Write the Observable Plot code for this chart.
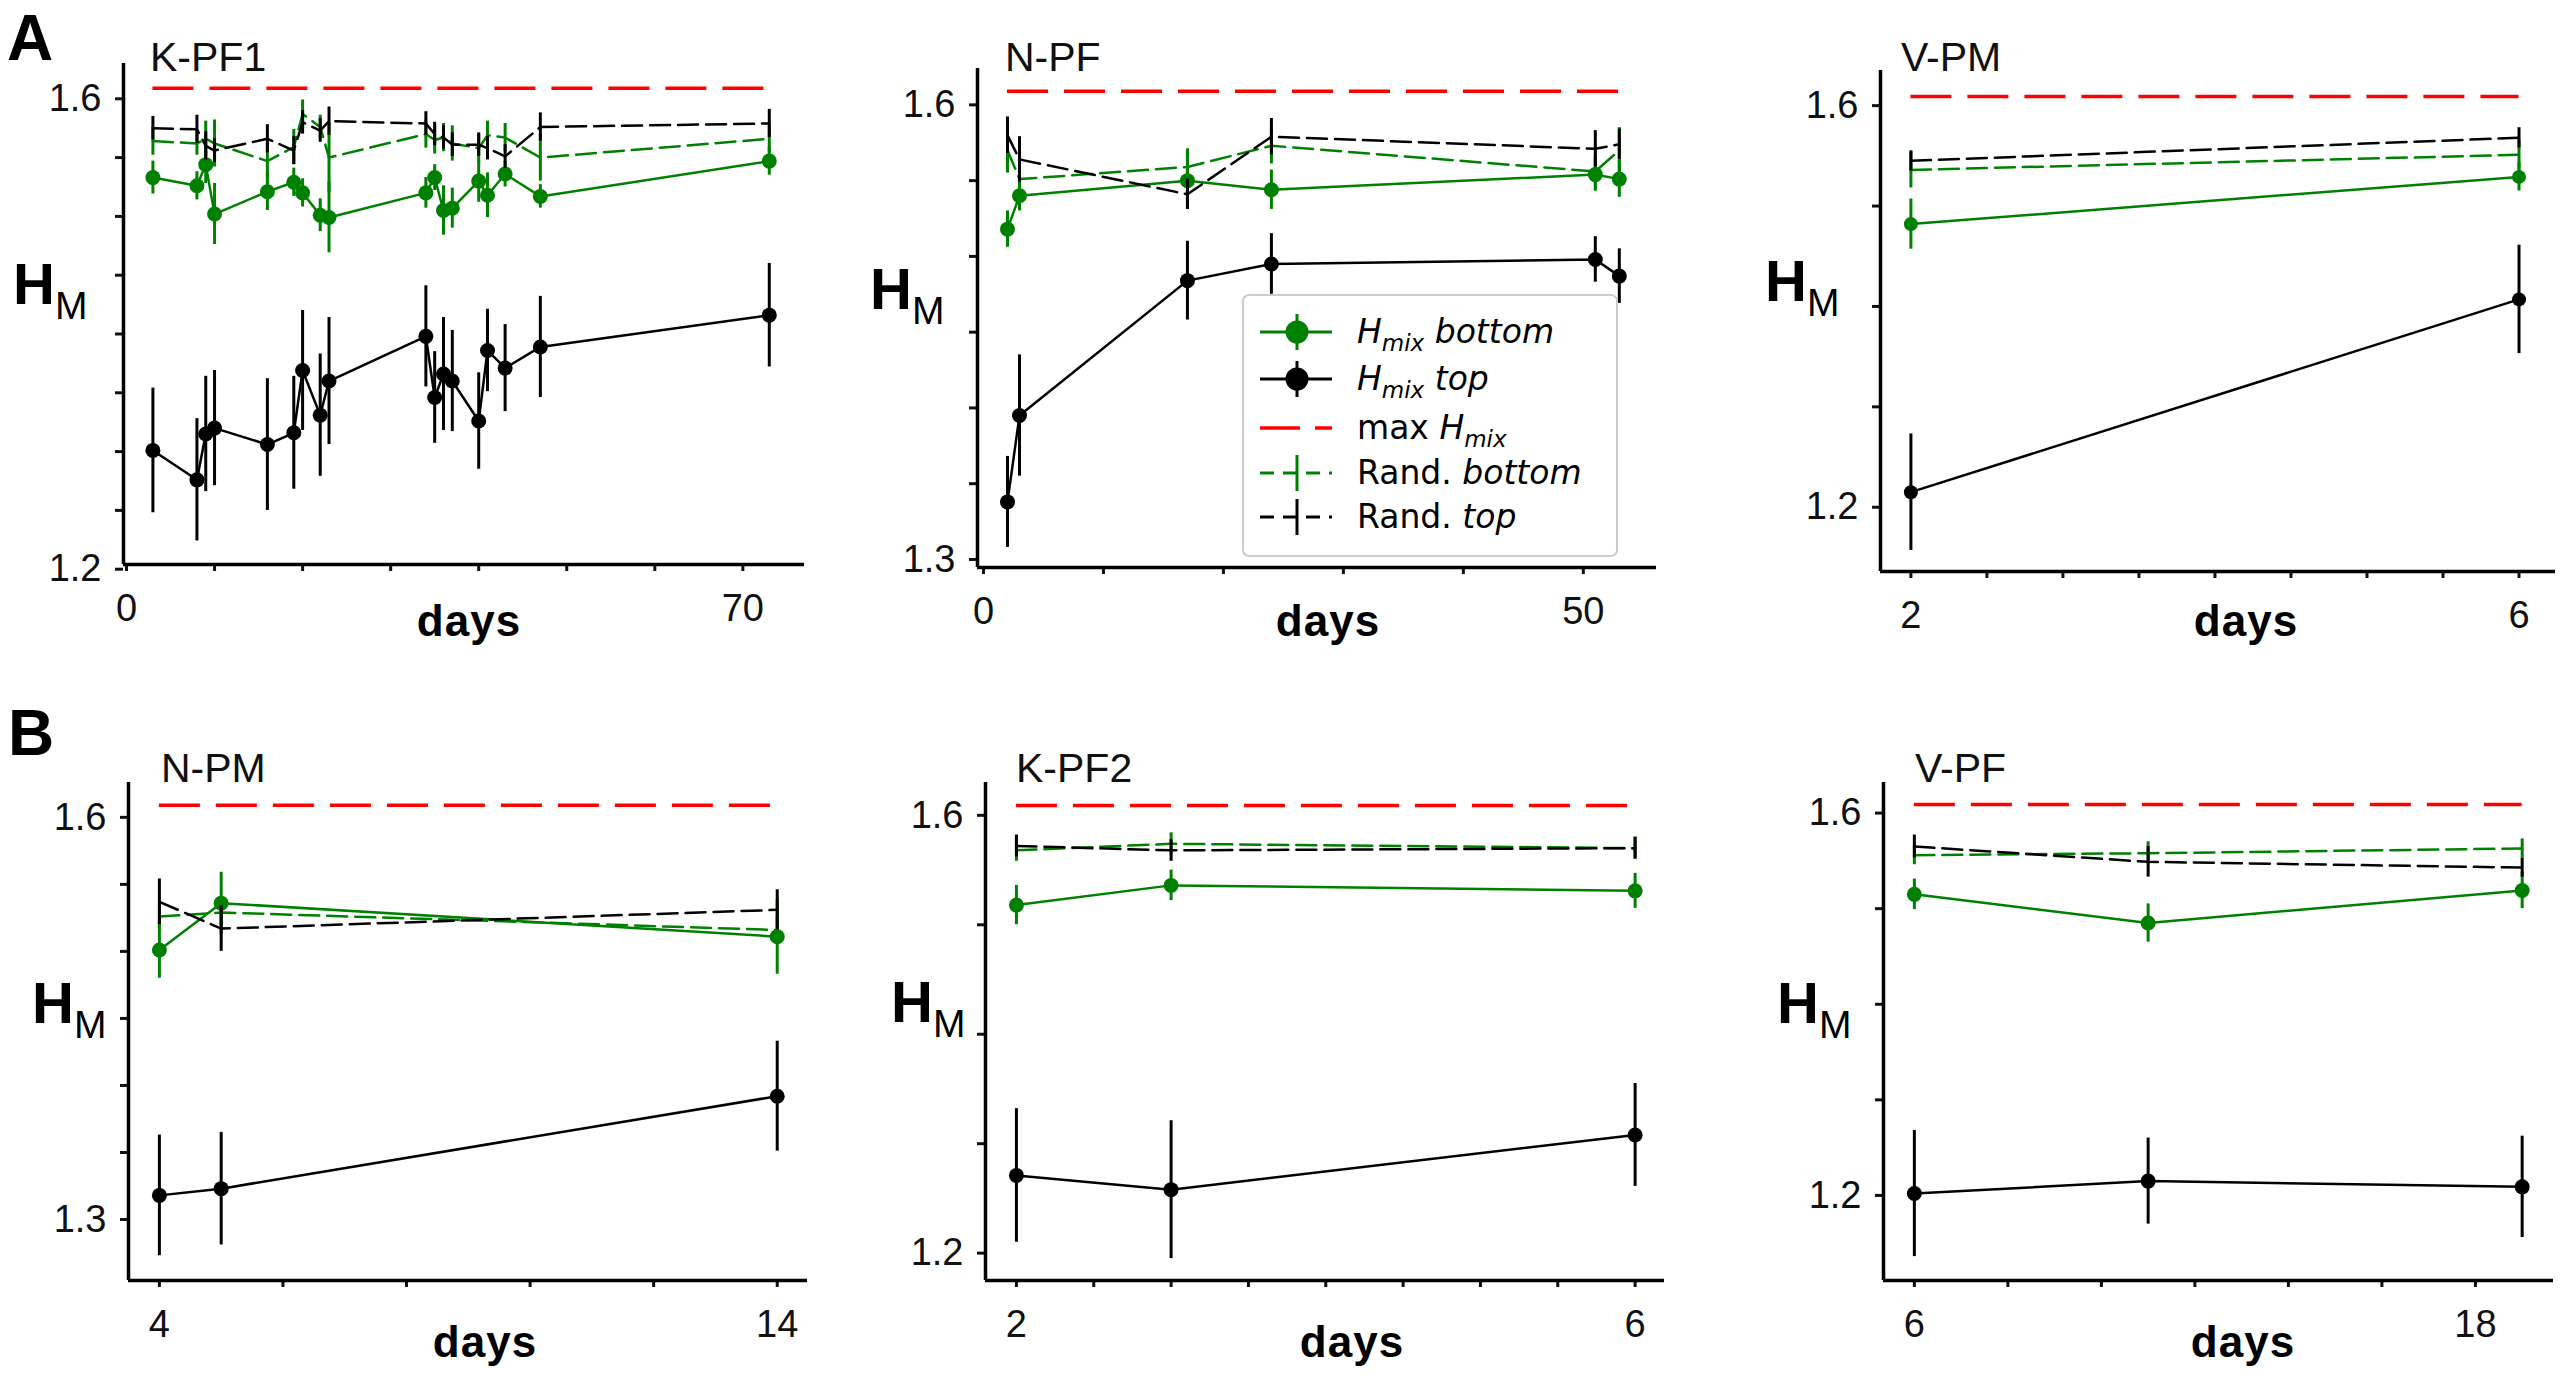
<!DOCTYPE html>
<html>
<head>
<meta charset="utf-8">
<script src="https://cdn.jsdelivr.net/npm/d3@7"></script>
<script src="https://cdn.jsdelivr.net/npm/@observablehq/plot@0.6"></script>
<style>
  html, body { margin: 0; padding: 0; background: #fff; }
  #page { position: relative; width: 2560px; height: 1378px; overflow: hidden; background: #fff; }
  #page svg { position: absolute; }
</style>
</head>
<body>
<div id="page"></div>
<script>
// ---------------- DATA ----------------
const maxHmix = 1.609;
const panelTitles = ["K-PF1", "N-PF", "V-PM", "N-PM", "K-PF2", "V-PF"];
const panelLetters = ["A", "B"];

// K-PF1
const kpf1Days = [3, 8, 9, 10, 16, 19, 20, 22, 23, 34, 35, 36, 37, 40, 41, 43, 47, 73];
const kpf1Bottom = [1.533, 1.526, 1.544, 1.502, 1.521, 1.529, 1.520, 1.501, 1.499, 1.520, 1.533, 1.505, 1.507, 1.530, 1.518, 1.536, 1.517, 1.547];
const kpf1BottomErr = [0.014, 0.012, 0.016, 0.026, 0.016, 0.012, 0.012, 0.014, 0.030, 0.013, 0.011, 0.021, 0.017, 0.018, 0.019, 0.011, 0.010, 0.012];
const kpf1Top = [1.301, 1.276, 1.315, 1.320, 1.306, 1.316, 1.369, 1.331, 1.360, 1.398, 1.346, 1.366, 1.360, 1.326, 1.386, 1.371, 1.389, 1.416];
const kpf1TopErr = [0.053, 0.052, 0.049, 0.049, 0.056, 0.048, 0.051, 0.052, 0.054, 0.043, 0.039, 0.048, 0.043, 0.041, 0.035, 0.037, 0.043, 0.044];
const kpf1RandBottom = [1.564, 1.562, 1.566, 1.562, 1.547, 1.559, 1.587, 1.576, 1.550, 1.570, 1.565, 1.567, 1.562, 1.558, 1.569, 1.567, 1.550, 1.566];
const kpf1RandBottomErr = [0.012, 0.010, 0.015, 0.020, 0.015, 0.015, 0.012, 0.010, 0.030, 0.012, 0.012, 0.012, 0.015, 0.012, 0.012, 0.012, 0.020, 0.012];
const kpf1RandTop = [1.575, 1.574, 1.560, 1.556, 1.566, 1.556, 1.580, 1.573, 1.581, 1.579, 1.570, 1.567, 1.561, 1.561, 1.558, 1.551, 1.576, 1.579];
const kpf1RandTopErr = [0.010, 0.012, 0.012, 0.010, 0.012, 0.012, 0.010, 0.010, 0.012, 0.010, 0.010, 0.010, 0.010, 0.010, 0.010, 0.010, 0.012, 0.012];
const kpf1XTicks = [0, 10, 20, 30, 40, 50, 60, 70];
const kpf1XLabels = [0, 70];
const kpf1YTicks = [1.2, 1.25, 1.3, 1.35, 1.4, 1.45, 1.5, 1.55, 1.6];
const kpf1YLabels = [1.2, 1.6];

// N-PF
const npfDays = [2, 3, 17, 24, 51, 53];
const npfBottom = [1.518, 1.540, 1.550, 1.544, 1.554, 1.551];
const npfBottomErr = [0.012, 0.010, 0.019, 0.013, 0.011, 0.012];
const npfTop = [1.338, 1.395, 1.484, 1.495, 1.498, 1.487];
const npfTopErr = [0.030, 0.040, 0.026, 0.020, 0.015, 0.018];
const npfRandBottom = [1.570, 1.551, 1.559, 1.573, 1.556, 1.570];
const npfRandBottomErr = [0.015, 0.012, 0.012, 0.012, 0.012, 0.015];
const npfRandTop = [1.580, 1.564, 1.541, 1.579, 1.571, 1.574];
const npfRandTopErr = [0.012, 0.015, 0.010, 0.012, 0.012, 0.010];
const npfXTicks = [0, 10, 20, 30, 40, 50];
const npfXLabels = [0, 50];
const npfYTicks = [1.3, 1.35, 1.4, 1.45, 1.5, 1.55, 1.6];
const npfYLabels = [1.3, 1.6];

// V-PM
const vpmDays = [2, 6];
const vpmBottom = [1.482, 1.529];
const vpmBottomErr = [0.025, 0.014];
const vpmTop = [1.215, 1.407];
const vpmTopErr = [0.058, 0.054];
const vpmRandBottom = [1.536, 1.551];
const vpmRandBottomErr = [0.018, 0.015];
const vpmRandTop = [1.545, 1.568];
const vpmRandTopErr = [0.010, 0.010];
const vpmXTicks = [2, 2.5, 3, 3.5, 4, 4.5, 5, 5.5, 6];
const vpmXLabels = [2, 6];
const vpmYTicks = [1.2, 1.3, 1.4, 1.5, 1.6];
const vpmYLabels = [1.2, 1.6];

// N-PM
const npmDays = [4, 5, 14];
const npmBottom = [1.501, 1.536, 1.511];
const npmBottomErr = [0.021, 0.023, 0.028];
const npmTop = [1.318, 1.323, 1.392];
const npmTopErr = [0.045, 0.042, 0.041];
const npmRandBottom = [1.526, 1.529, 1.516];
const npmRandBottomErr = [0.010, 0.010, 0.010];
const npmRandTop = [1.537, 1.517, 1.531];
const npmRandTopErr = [0.017, 0.017, 0.015];
const npmXTicks = [4, 6, 8, 10, 12, 14];
const npmXLabels = [4, 14];
const npmYTicks = [1.3, 1.35, 1.4, 1.45, 1.5, 1.55, 1.6];
const npmYLabels = [1.3, 1.6];

// K-PF2
const kpf2Days = [2, 3, 6];
const kpf2Bottom = [1.518, 1.536, 1.531];
const kpf2BottomErr = [0.018, 0.014, 0.016];
const kpf2Top = [1.271, 1.258, 1.308];
const kpf2TopErr = [0.061, 0.063, 0.047];
const kpf2RandBottom = [1.568, 1.574, 1.570];
const kpf2RandBottomErr = [0.010, 0.010, 0.010];
const kpf2RandTop = [1.572, 1.568, 1.570];
const kpf2RandTopErr = [0.010, 0.010, 0.010];
const kpf2XTicks = [2, 2.5, 3, 3.5, 4, 4.5, 5, 5.5, 6];
const kpf2XLabels = [2, 6];
const kpf2YTicks = [1.2, 1.3, 1.4, 1.5, 1.6];
const kpf2YLabels = [1.2, 1.6];

// V-PF
const vpfDays = [6, 11, 19];
const vpfBottom = [1.515, 1.485, 1.519];
const vpfBottomErr = [0.016, 0.020, 0.019];
const vpfTop = [1.202, 1.215, 1.209];
const vpfTopErr = [0.066, 0.045, 0.053];
const vpfRandBottom = [1.556, 1.558, 1.563];
const vpfRandBottomErr = [0.010, 0.012, 0.010];
const vpfRandTop = [1.565, 1.549, 1.543];
const vpfRandTopErr = [0.012, 0.016, 0.010];
const vpfXTicks = [6, 8, 10, 12, 14, 16, 18];
const vpfXLabels = [6, 18];
const vpfYTicks = [1.2, 1.3, 1.4, 1.5, 1.6];
const vpfYLabels = [1.2, 1.6];

// ---------------- LAYOUT / STYLE ----------------
const GREEN = "#008000", BLACK = "#000000", RED = "#ff0000";
const layout = [
  {frame: {L: 123, R: 804, T: 63, B: 564}, xDomain: [-0.34, 77.0], yDomain: [1.204, 1.630], r: 7.5,
   title: {x: 150, y: 71}, hm: {x: 13, y: 304}, days: {x: 469, y: 636}},
  {frame: {L: 977, R: 1656, T: 68, B: 567}, xDomain: [-0.5, 56.1], yDomain: [1.2947, 1.624], r: 7.5,
   title: {x: 1005, y: 71}, hm: {x: 870, y: 309}, days: {x: 1328, y: 636}},
  {frame: {L: 1880, R: 2555, T: 70, B: 571}, xDomain: [1.80, 6.24], yDomain: [1.136, 1.635], r: 7,
   title: {x: 1901, y: 71}, hm: {x: 1765, y: 301}, days: {x: 2246, y: 636}},
  {frame: {L: 128, R: 807, T: 782, B: 1280}, xDomain: [3.5, 14.49], yDomain: [1.2545, 1.626], r: 7.5,
   title: {x: 161, y: 782}, hm: {x: 32, y: 1023}, days: {x: 485, y: 1357}},
  {frame: {L: 985, R: 1664, T: 782, B: 1280}, xDomain: [1.8, 6.19], yDomain: [1.175, 1.630], r: 7.5,
   title: {x: 1016, y: 782}, hm: {x: 891, y: 1022}, days: {x: 1352, y: 1357}},
  {frame: {L: 1883, R: 2553, T: 782, B: 1280}, xDomain: [5.34, 19.67], yDomain: [1.111, 1.632], r: 7.5,
   title: {x: 1915, y: 782}, hm: {x: 1777, y: 1023}, days: {x: 2243, y: 1357}}
];

const panelData = [
  {days: kpf1Days, b: kpf1Bottom, be: kpf1BottomErr, t: kpf1Top, te: kpf1TopErr, rb: kpf1RandBottom, rbe: kpf1RandBottomErr, rt: kpf1RandTop, rte: kpf1RandTopErr, xt: kpf1XTicks, xl: kpf1XLabels, yt: kpf1YTicks, yl: kpf1YLabels},
  {days: npfDays, b: npfBottom, be: npfBottomErr, t: npfTop, te: npfTopErr, rb: npfRandBottom, rbe: npfRandBottomErr, rt: npfRandTop, rte: npfRandTopErr, xt: npfXTicks, xl: npfXLabels, yt: npfYTicks, yl: npfYLabels},
  {days: vpmDays, b: vpmBottom, be: vpmBottomErr, t: vpmTop, te: vpmTopErr, rb: vpmRandBottom, rbe: vpmRandBottomErr, rt: vpmRandTop, rte: vpmRandTopErr, xt: vpmXTicks, xl: vpmXLabels, yt: vpmYTicks, yl: vpmYLabels},
  {days: npmDays, b: npmBottom, be: npmBottomErr, t: npmTop, te: npmTopErr, rb: npmRandBottom, rbe: npmRandBottomErr, rt: npmRandTop, rte: npmRandTopErr, xt: npmXTicks, xl: npmXLabels, yt: npmYTicks, yl: npmYLabels},
  {days: kpf2Days, b: kpf2Bottom, be: kpf2BottomErr, t: kpf2Top, te: kpf2TopErr, rb: kpf2RandBottom, rbe: kpf2RandBottomErr, rt: kpf2RandTop, rte: kpf2RandTopErr, xt: kpf2XTicks, xl: kpf2XLabels, yt: kpf2YTicks, yl: kpf2YLabels},
  {days: vpfDays, b: vpfBottom, be: vpfBottomErr, t: vpfTop, te: vpfTopErr, rb: vpfRandBottom, rbe: vpfRandBottomErr, rt: vpfRandTop, rte: vpfRandTopErr, xt: vpfXTicks, xl: vpfXLabels, yt: vpfYTicks, yl: vpfYLabels}
];

const page = document.getElementById("page");
const FONT = "'Liberation Sans', Arial, Helvetica, sans-serif";

function rows(days, mean, err) {
  return days.map((d, i) => ({day: d, v: mean[i], lo: mean[i] - err[i], hi: mean[i] + err[i]}));
}
function has(list, v) { return list.some(l => Math.abs(l - v) < 1e-9); }

function seriesMarks(data, color, dashed, r) {
  const marks = [
    Plot.ruleX(data, {x: "day", y1: "lo", y2: "hi", stroke: color, strokeWidth: 3})
  ];
  const lineOpts = {x: "day", y: "v", stroke: color, strokeWidth: 2.5};
  if (dashed) lineOpts.strokeDasharray = "20,8";
  marks.push(Plot.line(data, lineOpts));
  if (!dashed) marks.push(Plot.dot(data, {x: "day", y: "v", r, fill: color, stroke: "none"}));
  return marks;
}

layout.forEach((cfg, k) => {
  const d = panelData[k];
  const ML = 115, MR = 12, MT = 12, MB = 100;
  const f = cfg.frame;
  const w = f.R - f.L + ML + MR;
  const h = f.B - f.T + MT + MB;
  const first = d.days[0], last = d.days[d.days.length - 1];
  const chart = Plot.plot({
    width: w, height: h,
    marginLeft: ML, marginRight: MR, marginTop: MT, marginBottom: MB,
    style: {background: "transparent", color: "#111", fontFamily: FONT, fontSize: "38px", overflow: "visible"},
    x: {domain: cfg.xDomain},
    y: {domain: cfg.yDomain},
    marks: [
      Plot.axisX({ticks: d.xt, tickFormat: v => has(d.xl, v) ? String(v) : "", tickSize: 7, tickPadding: 23,
                  strokeWidth: 3, fontSize: 38, label: null}),
      Plot.axisY({ticks: d.yt, tickFormat: v => has(d.yl, v) ? v.toFixed(1) : "", tickSize: 8, tickPadding: 14,
                  strokeWidth: 3, fontSize: 38, label: null}),
      Plot.ruleX([cfg.xDomain[0]], {stroke: "#000", strokeWidth: 3.5}),
      Plot.ruleY([cfg.yDomain[0]], {stroke: "#000", strokeWidth: 3.5}),
      ...seriesMarks(rows(d.days, d.b, d.be), GREEN, false, cfg.r),
      ...seriesMarks(rows(d.days, d.t, d.te), BLACK, false, cfg.r),
      Plot.ruleY([{y: maxHmix, x1: first, x2: last}], {y: "y", x1: "x1", x2: "x2", stroke: RED, strokeWidth: 3.5, strokeDasharray: "41,16"}),
      ...seriesMarks(rows(d.days, d.rb, d.rbe), GREEN, true, cfg.r),
      ...seriesMarks(rows(d.days, d.rt, d.rte), BLACK, true, cfg.r)
    ]
  });
  chart.style.left = (f.L - ML) + "px";
  chart.style.top = (f.T - MT) + "px";
  page.appendChild(chart);
});

// ---------------- OVERLAY TEXT & LEGEND ----------------
const ov = d3.select(page).append("svg")
  .attr("width", 2560).attr("height", 1378)
  .style("left", "0px").style("top", "0px").style("pointer-events", "none")
  .style("font-family", FONT);

ov.append("text").attr("x", 7).attr("y", 60).attr("font-size", 64).attr("font-weight", "bold").text(panelLetters[0]);
ov.append("text").attr("x", 8).attr("y", 755).attr("font-size", 64).attr("font-weight", "bold").text(panelLetters[1]);

layout.forEach((cfg, k) => {
  ov.append("text").attr("x", cfg.title.x).attr("y", cfg.title.y).attr("font-size", 41).attr("fill", "#111").text(panelTitles[k]);
  const hm = ov.append("text").attr("x", cfg.hm.x).attr("y", cfg.hm.y).attr("fill", "#000");
  hm.append("tspan").attr("font-size", 58).attr("font-weight", "bold").text("H");
  hm.append("tspan").attr("font-size", 39).attr("dy", 15).text("M");
  ov.append("text").attr("x", cfg.days.x).attr("y", cfg.days.y).attr("text-anchor", "middle")
    .attr("font-size", 44).attr("font-weight", "bold").attr("letter-spacing", "1px").text("days");
});

// legend (inside N-PF panel)
const lg = ov.append("g");
lg.append("rect").attr("x", 1243).attr("y", 295).attr("width", 374).attr("height", 261).attr("rx", 6)
  .attr("fill", "rgba(255,255,255,0.85)").attr("stroke", "#cccccc").attr("stroke-width", 2);
const legendRows = [332, 379, 428, 473, 517];
const symX1 = 1260, symX2 = 1332, symC = 1297, textX = 1357;
function legendSymbol(y, color, kind) {
  if (kind === "solid") {
    lg.append("line").attr("x1", symX1).attr("x2", symX2).attr("y1", y).attr("y2", y).attr("stroke", color).attr("stroke-width", 3);
    lg.append("line").attr("x1", symC).attr("x2", symC).attr("y1", y - 18).attr("y2", y + 18).attr("stroke", color).attr("stroke-width", 3);
    lg.append("circle").attr("cx", symC).attr("cy", y).attr("r", 11.5).attr("fill", color);
  } else if (kind === "red") {
    lg.append("line").attr("x1", symX1).attr("x2", symX2).attr("y1", y).attr("y2", y).attr("stroke", color).attr("stroke-width", 3.5).attr("stroke-dasharray", "40,15");
  } else {
    lg.append("line").attr("x1", symX1).attr("x2", symX2).attr("y1", y).attr("y2", y).attr("stroke", color).attr("stroke-width", 3).attr("stroke-dasharray", "14,9");
    lg.append("line").attr("x1", symC).attr("x2", symC).attr("y1", y - 18).attr("y2", y + 18).attr("stroke", color).attr("stroke-width", 3);
  }
}
legendSymbol(legendRows[0], GREEN, "solid");
legendSymbol(legendRows[1], BLACK, "solid");
legendSymbol(legendRows[2], RED, "red");
legendSymbol(legendRows[3], GREEN, "dash");
legendSymbol(legendRows[4], BLACK, "dash");

function legendText(y, parts) {
  const t = lg.append("text").attr("x", textX).attr("y", y + 11).attr("font-family", "'DejaVu Sans', sans-serif").attr("font-size", 33).attr("fill", "#000");
  parts.forEach(p => {
    const s = t.append("tspan").text(p.t);
    if (p.i) s.attr("font-style", "italic");
    if (p.sub) s.attr("font-size", 23).attr("dy", 8);
    if (p.up) s.attr("dy", -8);
  });
}
legendText(legendRows[0], [{t: "H", i: 1}, {t: "mix", i: 1, sub: 1}, {t: " bottom", i: 1, up: 1}]);
legendText(legendRows[1], [{t: "H", i: 1}, {t: "mix", i: 1, sub: 1}, {t: " top", i: 1, up: 1}]);
legendText(legendRows[2], [{t: "max "}, {t: "H", i: 1}, {t: "mix", i: 1, sub: 1}]);
legendText(legendRows[3], [{t: "Rand. "}, {t: "bottom", i: 1}]);
legendText(legendRows[4], [{t: "Rand. "}, {t: "top", i: 1}]);
</script>
</body>
</html>
